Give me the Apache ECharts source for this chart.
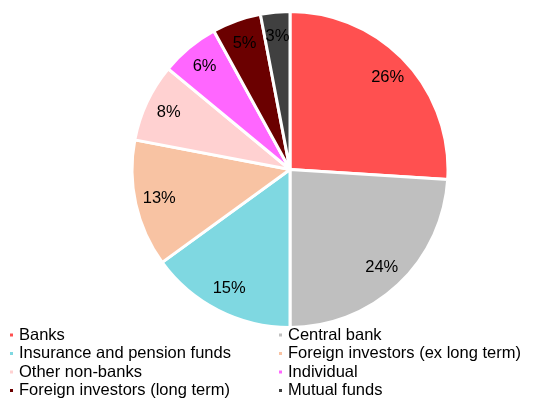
<!DOCTYPE html>
<html><head><meta charset="utf-8">
<script src="https://cdn.jsdelivr.net/npm/echarts@6/dist/echarts.min.js"></script>
<style>html,body{margin:0;padding:0;background:#fff}#c{width:545px;height:401px}</style>
</head><body><div id="c"></div>
<script>
const categories = ["Banks","Central bank","Insurance and pension funds","Foreign investors (ex long term)","Other non-banks","Individual","Foreign investors (long term)","Mutual funds"];
const values = [26,24,15,13,8,6,5,3];
const colors = ["#FF5050","#BFBFBF","#7FD8E1","#F8C3A3","#FFD1D1","#FF66FF","#6B0000","#404040"];
const leftCol = [0,2,4,6].map(i=>categories[i]);
const rightCol = [1,3,5,7].map(i=>categories[i]);
const data = categories.map((n,i)=>({name:n,value:values[i],itemStyle:{color:colors[i]}}));
const font = "Liberation Sans, Arial, sans-serif";
const legendBase = {orient:'vertical',icon:'rect',itemWidth:5,itemHeight:5,itemGap:0.5,
  textStyle:{fontFamily:font,fontSize:16.5,color:'#000',lineHeight:18,padding:[0,0,0,0]},selectedMode:false,padding:0};
const chart = echarts.init(document.getElementById('c'),null,{renderer:'canvas'});
chart.setOption({
  animation:false,
  color:colors,
  legend:[
    Object.assign({},legendBase,{data:leftCol,left:8,top:326}),
    Object.assign({},legendBase,{data:rightCol,left:277,top:326})
  ],
  series:[
    {type:'pie',center:[290,169.5],radius:[0,158],startAngle:90,clockwise:true,
     data:data,label:{show:false},labelLine:{show:false},
     itemStyle:{borderColor:'#fff',borderWidth:3},silent:true},
    {type:'pie',center:[290,169.5],radius:[105,157],startAngle:90,clockwise:true,
     data:categories.map((n,i)=>({name:n,value:values[i]})),
     itemStyle:{color:'rgba(0,0,0,0)',borderWidth:0},silent:true,legendHoverLink:false,
     label:{show:true,position:'inside',formatter:p=>p.value+'%',fontFamily:font,fontSize:16.5,color:'#000'},
     labelLine:{show:false}}
  ]
});
</script></body></html>
